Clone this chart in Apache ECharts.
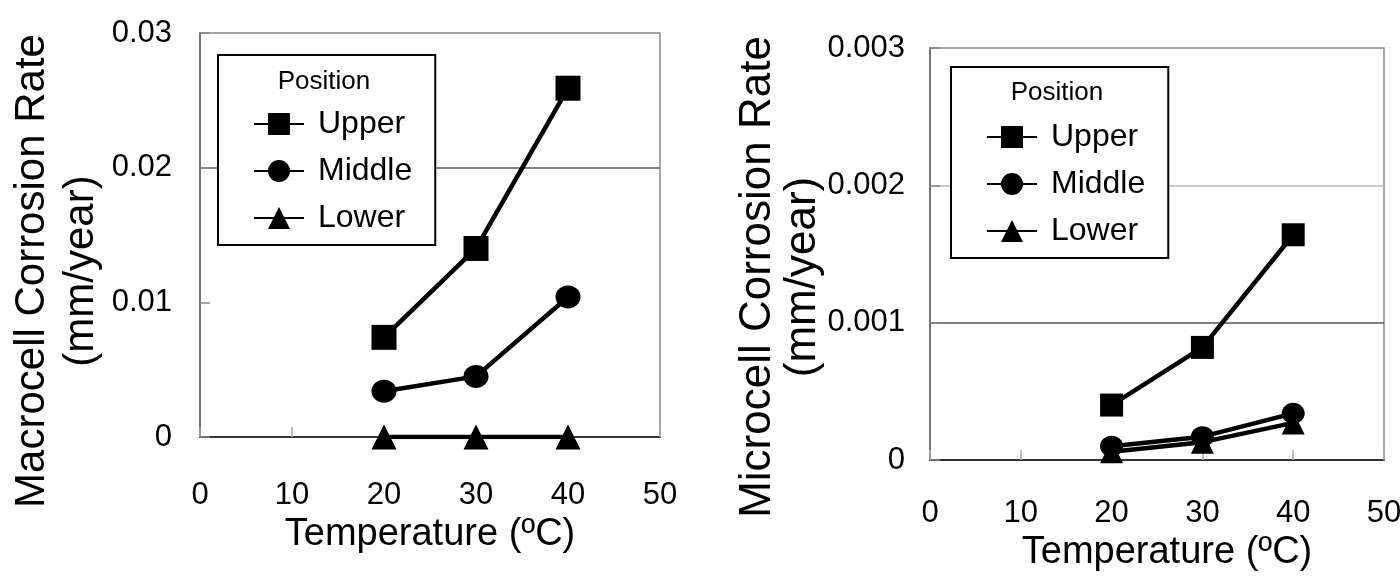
<!DOCTYPE html>
<html><head><meta charset="utf-8">
<script src="https://cdn.jsdelivr.net/npm/echarts@6/dist/echarts.min.js"></script>
<style>html,body{margin:0;padding:0;background:#fff}#c{width:1400px;height:577px}</style>
</head><body><div id="c"></div>
<script>
const temps = [20, 30, 40];
const seriesNames = ['Upper', 'Middle', 'Lower'];
const macroUpper = [0.0074, 0.0140, 0.0259];
const macroMiddle = [0.0034, 0.0045, 0.0104];
const macroLower = [0.0000, 0.0000, 0.0000];
const microUpper = [0.00040, 0.00082, 0.00164];
const microMiddle = [0.00010, 0.00017, 0.00034];
const microLower = [0.00006, 0.00013, 0.00027];
const xTicks = [0, 10, 20, 30, 40, 50];
const macroTicks = [0, 0.01, 0.02, 0.03];
const microTicks = [0, 0.001, 0.002, 0.003];
const xTitle = 'Temperature (ºC)';
const macroTitle = ['Macrocell Corrosion Rate', '(mm/year)'];
const microTitle = ['Microcell Corrosion Rate', '(mm/year)'];
const legendTitle = 'Position';

const SANS = "'Liberation Sans', Arial, sans-serif";
const symbols = {Upper: 'rect', Middle: 'circle', Lower: 'triangle'};

function pairs(vals) { return temps.map((t, i) => [t, vals[i]]); }
function mkSeries(name, vals, idx) {
  const s = idx === 0 ? 25 : 23;
  return {
    name, type: 'line', xAxisIndex: idx, yAxisIndex: idx,
    data: pairs(vals), symbol: symbols[name],
    symbolSize: name === 'Middle' ? [s, s - 2] : s,
    lineStyle: {color: '#000', width: 4.5},
    itemStyle: {color: '#000'},
    z: 3
  };
}
function xAxis(idx) {
  return {
    type: 'value', gridIndex: idx, min: 0, max: 50, interval: 10,
    name: xTitle, nameLocation: 'middle', nameGap: idx === 0 ? 78 : 70,
    nameTextStyle: {fontFamily: SANS, fontSize: 38, color: '#000', padding: idx === 0 ? 0 : [0, 0, 0, 20]},
    axisLine: {show: true, lineStyle: {color: '#333', width: 2}},
    axisTick: {show: true, inside: true, length: 10, lineStyle: {color: '#aaa', width: 1.5}},
    axisLabel: {fontFamily: SANS, fontSize: 31, color: '#000', margin: idx === 0 ? 43 : 38,
      formatter: v => xTicks.includes(v) ? String(v) : ''},
    splitLine: {show: false}
  };
}
function yAxis(idx, max, interval, ticks, gridColors) {
  return {
    type: 'value', gridIndex: idx, min: 0, max, interval,
    axisLine: {show: true, lineStyle: {color: '#666', width: 1.5}},
    axisTick: {show: true, inside: true, length: 10, lineStyle: {color: '#888', width: 1.5}},
    axisLabel: {fontFamily: SANS, fontSize: 31, color: '#000', margin: idx === 0 ? 28 : 25,
      formatter: v => { const t = ticks.find(k => Math.abs(k - v) < 1e-9); return t === undefined ? '' : String(t); }},
    splitLine: {show: true, lineStyle: {color: gridColors, width: 1.5}}
  };
}
function legend(idx, left, top) {
  return {
    orient: 'vertical', left, top,
    data: seriesNames,
    itemWidth: 50, itemHeight: 27.5, itemGap: 15,
    padding: [idx === 0 ? 53 : 54, 23, 11, 35],
    borderColor: '#000', borderWidth: 2, backgroundColor: '#fff',
    lineStyle: {width: 2, color: '#000'},
    textStyle: {fontFamily: SANS, fontSize: 32, color: '#000', lineHeight: 27.5, padding: [0, 0, 0, 9]},
    selectedMode: false, z: 5
  };
}
function rotText(text, x, y, size) {
  return {type: 'text', x, y, rotation: Math.PI / 2, z: 10,
    style: {text, fontFamily: SANS, fontSize: size, fill: '#000', textAlign: 'center', textVerticalAlign: 'middle'}};
}
function flatText(text, x, y, size) {
  return {type: 'text', x, y, z: 100,
    style: {text, fontFamily: SANS, fontSize: size, fill: '#000', textAlign: 'center', textVerticalAlign: 'middle'}};
}

const chart = echarts.init(document.getElementById('c'), null, {renderer: 'canvas'});
chart.setOption({
  animation: false,
  backgroundColor: '#fff',
  grid: [
    {left: 200, top: 33, width: 460, height: 404, show: true, borderColor: '#888', borderWidth: 1.5, backgroundColor: 'transparent', outerBoundsMode: 'none', containLabel: false},
    {left: 930, top: 48, width: 454, height: 412, show: true, borderColor: '#888', borderWidth: 1.5, backgroundColor: 'transparent', outerBoundsMode: 'none', containLabel: false}
  ],
  xAxis: [xAxis(0), xAxis(1)],
  yAxis: [
    yAxis(0, 0.03, 0.01, macroTicks, ['transparent', 'transparent', '#555', 'transparent']),
    yAxis(1, 0.003, 0.001, microTicks, ['transparent', '#555', '#bbb', 'transparent'])
  ],
  legend: [legend(0, 218, 55), legend(1, 951, 67)],
  graphic: [
    rotText(macroTitle[0], 32, 271, 42),
    rotText(macroTitle[1], 81, 271, 42),
    rotText(microTitle[0], 758, 277, 44),
    rotText(microTitle[1], 803, 277, 44),
    flatText(legendTitle, 324, 82, 26),
    flatText(legendTitle, 1057, 93, 26)
  ],
  series: [
    mkSeries('Upper', macroUpper, 0),
    mkSeries('Middle', macroMiddle, 0),
    mkSeries('Lower', macroLower, 0),
    mkSeries('Upper', microUpper, 1),
    mkSeries('Middle', microMiddle, 1),
    mkSeries('Lower', microLower, 1)
  ]
});
</script></body></html>
